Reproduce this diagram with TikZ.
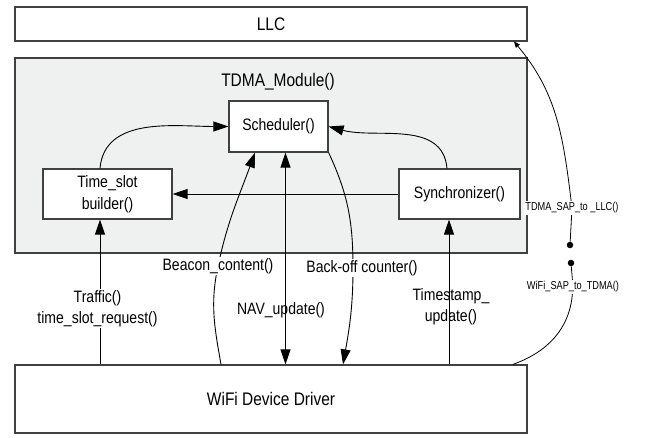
\documentclass[tikz,border=0pt]{standalone}
\usepackage{fontspec}
\setmainfont{Liberation Sans}[FakeStretch=0.85]
\newfontfamily\sapfont{Liberation Sans}[FakeStretch=0.8]
\usetikzlibrary{arrows.meta}
\definecolor{modulegray}{RGB}{238,241,240}
\definecolor{framegray}{RGB}{64,64,64}

\begin{document}
\begin{tikzpicture}[
    x=1pt, y=1pt,
    >={Triangle[length=15pt,width=10pt]},
    box/.style={draw=framegray, line width=1.2pt, fill=white, inner sep=0pt,
                align=center, font=\fontsize{16.5}{22}\selectfont},
    layer/.style={box, minimum width=512pt, font=\fontsize{18.2}{22}\selectfont},
    func/.style={box, minimum height=50pt},
    lbl/.style={inner sep=1pt, align=center, font=\fontsize{16.5}{21}\selectfont},
    sap/.style={fill=white, inner sep=1.5pt, font=\sapfont\fontsize{11.5}{13}\selectfont},
    conn/.style={line width=0.9pt, ->},
    sapline/.style={line width=0.8pt},
    dot/.style={circle, fill=black, inner sep=0pt, minimum size=6.5pt}]

\useasboundingbox (0,0) rectangle (648,437);

\node[layer, minimum height=34pt] (llc) at (271,413) {LLC};
\node[layer, minimum height=195pt, fill=modulegray] (module) at (271,281.5) {};
\node[lbl, font=\fontsize{18.2}{22}\selectfont] (mtitle) at (278,355) {TDMA\_Module()};
\node[func, minimum width=99pt, minimum height=51pt] (sched) at (278.5,310.5) {Scheduler()};
\node[func, minimum width=129pt] (tsb) at (107.5,243) {Time\_slot\\builder()};
\node[func, minimum width=121pt] (sync) at (459.5,243) {Synchronizer()};
\node[layer, minimum height=68pt] (driver) at (271,38) {WiFi Device Driver};

\node[lbl] (traffic) at (97.5,128.5) {Traffic()\\time\_slot\_request()};
\node[lbl] (stamp) at (451,130.5) {Timestamp\_\\update()};
\node[lbl] (nav) at (281,127) {NAV\_update()};

\coordinate (tsbin) at ([xshift=-7.5pt]tsb.south);
\coordinate (navin) at ([xshift=7pt]sched.south);
\coordinate (stin) at ([xshift=-10.5pt]sync.south);
\coordinate (bcin) at ([xshift=-23.5pt]sched.south);
\coordinate (bcout) at ([xshift=-50pt]driver.north);
\coordinate (bcmid) at (218,171);
\coordinate (bomid) at (353,169);
\coordinate (boin) at ([xshift=72pt]driver.north);

\draw[conn] ([xshift=-7.5pt]tsb.north) to[out=85,in=180] (sched.west);
\draw[conn] ([xshift=-12.5pt]sync.north) to[out=95,in=-15] (sched.east);
\draw[conn] (sync.west) -- (tsb.east);
\draw[conn] (tsbin |- driver.north) -- (tsbin |- traffic.south)
            (tsbin |- traffic.north) -- (tsbin);
\draw[conn, <->] (navin |- driver.north) -- (navin);
\draw[conn] (stin |- driver.north) -- (stin);
\draw[conn] (bcout) to[out=100,in=-102] (bcmid) to[out=78,in=-110] (bcin);
\draw[conn] (sched.south east) to[out=-65,in=90] (bomid) to[out=-90,in=80] (boin);

\node[lbl, fill=white] (beacon) at (bcmid) {Beacon\_content()};
\node[lbl, fill=white] (backoff) at (362,169) {Back-off counter()};

\node[sap] (sapllc) at (572,229) {TDMA\_SAP\_to \_LLC()};
\node[dot] (dota) at (570,192) {};
\node[dot] (dotb) at (571,174) {};
\node[sap] (sapwifi) at (573,150) {WiFi\_SAP\_to\_TDMA()};

\draw[sapline] (dota) -- (sapllc);
\draw[sapline, -{Triangle[length=6pt,width=5pt]}] (sapllc) to[out=97,in=-50] ([xshift=243pt]llc.south);
\draw[sapline] (dotb) -- (sapwifi);
\draw[sapline] (sapwifi) to[out=-95,in=20] ([xshift=242pt]driver.north);

\end{tikzpicture}
\end{document}
